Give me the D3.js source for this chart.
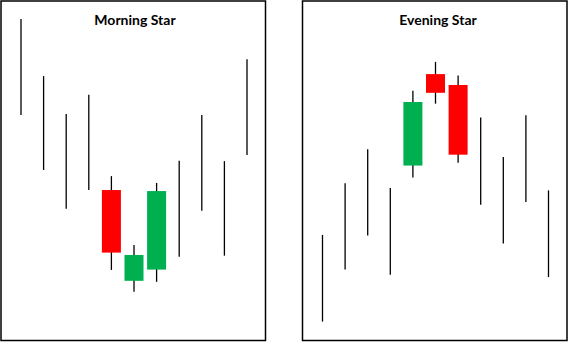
<!DOCTYPE html>
<meta charset="utf-8">
<style>
body {
  margin: 0;
  background: #fff;
}
.frame {
  fill: none;
  stroke: #000;
  stroke-width: 1.5px;
}
.wick {
  stroke: #000;
  stroke-width: 1.3px;
}
.title {
  font-family: Lato, "Open Sans", sans-serif;
  font-weight: bold;
  font-size: 14px;
  fill: #000;
}
</style>
<body>
<script src="https://d3js.org/d3.v7.min.js"></script>
<script>

// price values (0..100 price units), null = no body
var morningHigh  = [94.7, 77.9, 66.8, 72.4, 48.5, 28.2, 46.5, 53.0, 66.5, 52.9, 82.9];
var morningLow   = [66.5, 50.3, 38.9, 44.4, 20.9, 14.5, 17.4, 24.8, 38.3, 25.1, 54.7];
var morningOpen  = [null, null, null, null, 44.4, 17.7, 21.0, null, null, null, null];
var morningClose = [null, null, null, null, 26.0, 25.3, 44.1, null, null, null, null];

var eveningHigh  = [31.2, 46.4, 56.4, 45.0, 73.6, 82.1, 78.1, 65.7, 54.1, 66.4, 44.3];
var eveningLow   = [5.7, 21.0, 31.0, 19.5, 48.1, 69.8, 52.4, 40.1, 28.7, 40.9, 18.8];
var eveningOpen  = [null, null, null, null, 51.6, 78.5, 75.3, null, null, null, null];
var eveningClose = [null, null, null, null, 70.3, 73.0, 54.8, null, null, null, null];

var titles = ["Morning Star", "Evening Star"];

var width = 572,
    height = 342;

var up = "#00b050",
    down = "#ff0000";

var svg = d3.select("body").append("svg")
    .attr("width", width)
    .attr("height", height);

function candles(data) {
  return data.high.map(function(h, i) {
    return {i: i, high: h, low: data.low[i], open: data.open[i], close: data.close[i]};
  });
}

var panels = [
  {x: 1, title: titles[0], tx: 135, data: candles({high: morningHigh, low: morningLow, open: morningOpen, close: morningClose})},
  {x: 302.5, title: titles[1], tx: 438, data: candles({high: eveningHigh, low: eveningLow, open: eveningOpen, close: eveningClose})}
];

var pw = 264.5, ph = 339.5, py = 1;

panels.forEach(function(p) {
  var g = svg.append("g");

  var x = d3.scalePoint()
      .domain(d3.range(p.data.length))
      .range([p.x + 20, p.x + pw - 18.5]);

  var y = d3.scaleLinear()
      .domain([0, 100])
      .range([py + 340, py]);

  g.append("rect")
      .attr("class", "frame")
      .attr("x", p.x)
      .attr("y", py)
      .attr("width", pw)
      .attr("height", ph);

  g.append("text")
      .attr("class", "title")
      .attr("x", p.tx)
      .attr("y", 25)
      .attr("text-anchor", "middle")
      .text(p.title);

  g.selectAll(".wick")
      .data(p.data)
    .enter().append("line")
      .attr("class", "wick")
      .attr("x1", function(d) { return x(d.i); })
      .attr("x2", function(d) { return x(d.i); })
      .attr("y1", function(d) { return y(d.high); })
      .attr("y2", function(d) { return y(d.low); });

  var bw = 19;
  g.selectAll(".body")
      .data(p.data.filter(function(d) { return d.open != null; }))
    .enter().append("rect")
      .attr("class", "body")
      .attr("x", function(d) { return x(d.i) - bw / 2; })
      .attr("width", bw)
      .attr("y", function(d) { return y(Math.max(d.open, d.close)); })
      .attr("height", function(d) { return Math.abs(y(d.open) - y(d.close)); })
      .style("fill", function(d) { return d.close > d.open ? up : down; });
});

</script>
